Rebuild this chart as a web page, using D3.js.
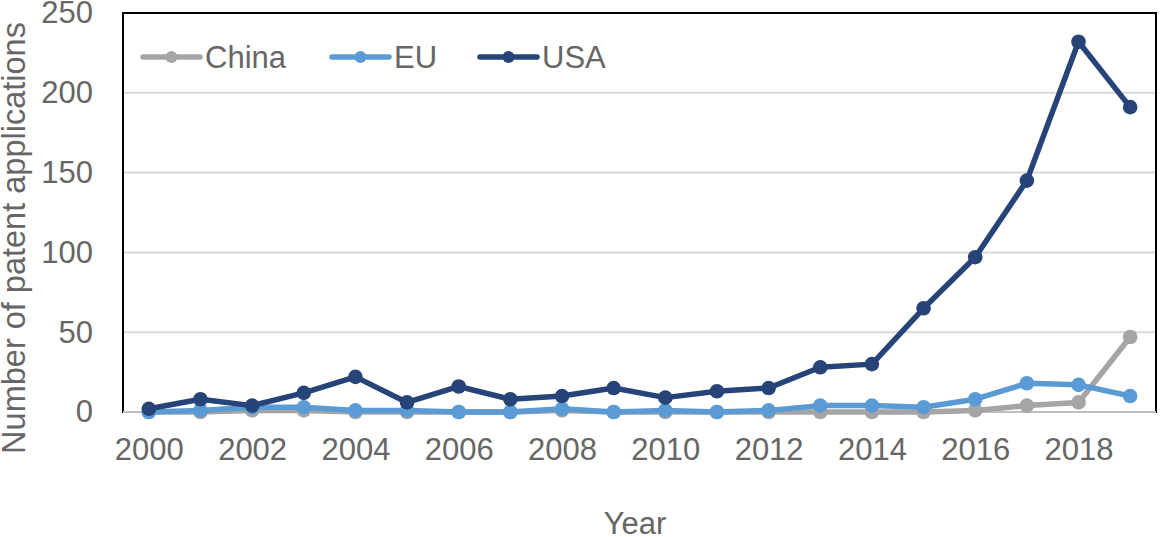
<!DOCTYPE html>
<html>
<head>
<meta charset="utf-8">
<script src="https://cdn.jsdelivr.net/npm/d3@7"></script>
<style>
  body { margin: 0; background: #fff; }
  text { font-family: "Liberation Sans", Arial, sans-serif; fill: #666; }
</style>
</head>
<body>
<svg></svg>
<script>
const years = [2000, 2001, 2002, 2003, 2004, 2005, 2006, 2007, 2008, 2009,
               2010, 2011, 2012, 2013, 2014, 2015, 2016, 2017, 2018, 2019];
const china = [0, 0, 1, 1, 0, 0, 0, 0, 1, 0, 0, 0, 0, 0, 0, 0, 1, 4, 6, 47];
const eu    = [0, 1, 3, 3, 1, 1, 0, 0, 2, 0, 1, 0, 1, 4, 4, 3, 8, 18, 17, 10];
const usa   = [2, 8, 4, 12, 22, 6, 16, 8, 10, 15, 9, 13, 15, 28, 30, 65, 97, 145, 232, 191];
const xTicks = [2000, 2002, 2004, 2006, 2008, 2010, 2012, 2014, 2016, 2018];
const yTicks = [0, 50, 100, 150, 200, 250];
const seriesNames = ['China', 'EU', 'USA'];
const seriesColors = ['#a5a5a5', '#5b9bd5', '#264478'];

const w = 1160;
const h = 537;
const pLeft = 123, pRight = 1156, pTop = 13, pBottom = 412;

let svg = d3.select('svg').attr('width', w).attr('height', h);

let series = [china, eu, usa].map((vals, i) => ({
  name: seriesNames[i],
  color: seriesColors[i],
  values: vals.map((v, j) => ({ year: years[j], value: v }))
}));

let xScale = d3.scalePoint()
  .domain(years)
  .range([pLeft, pRight])
  .padding(0.5);

let yScale = d3.scaleLinear()
  .domain([0, 250])
  .range([pBottom, pTop]);

// gridlines
svg.append('g')
  .selectAll('line')
  .data(yTicks.slice(1))
  .enter()
  .append('line')
  .attr('x1', pLeft).attr('x2', pRight)
  .attr('y1', d => yScale(d)).attr('y2', d => yScale(d))
  .attr('stroke', '#d9d9d9')
  .attr('stroke-width', 2);

// plot frame
svg.append('rect')
  .attr('x', pLeft).attr('y', pTop)
  .attr('width', pRight - pLeft).attr('height', pBottom - pTop)
  .attr('fill', 'none')
  .attr('stroke', '#000')
  .attr('stroke-width', 2);

svg.append('line')
  .attr('x1', pLeft).attr('x2', pRight)
  .attr('y1', pBottom).attr('y2', pBottom)
  .attr('stroke', '#bfbfbf')
  .attr('stroke-width', 2);

// axes
let yAxis = d3.axisLeft(yScale).tickValues(yTicks).tickSize(0).tickPadding(30);
svg.append('g')
  .attr('transform', `translate(${pLeft}, 0)`)
  .call(yAxis)
  .call(g => g.select('.domain').remove())
  .selectAll('text')
  .attr('font-size', 31)
  .attr('fill', '#666');

let xAxis = d3.axisBottom(xScale).tickValues(xTicks).tickSize(0).tickPadding(26);
svg.append('g')
  .attr('transform', `translate(0, ${pBottom})`)
  .call(xAxis)
  .call(g => g.select('.domain').remove())
  .selectAll('text')
  .attr('font-size', 31)
  .attr('fill', '#666');

svg.selectAll('.tick text').style('font-family', '"Liberation Sans", Arial, sans-serif');

// axis titles
svg.append('text')
  .attr('x', 635).attr('y', 534)
  .attr('text-anchor', 'middle')
  .attr('font-size', 31)
  .text('Year');

svg.append('text')
  .attr('transform', 'translate(25, 238) rotate(-90)')
  .attr('text-anchor', 'middle')
  .attr('font-size', 32.5)
  .text('Number of patent applications');

// lines and markers
let line = d3.line()
  .x(d => xScale(d.year))
  .y(d => yScale(d.value));

series.forEach(s => {
  let g = svg.append('g');
  g.append('path')
    .datum(s.values)
    .attr('d', line)
    .attr('fill', 'none')
    .attr('stroke', s.color)
    .attr('stroke-width', 5.5)
    .attr('stroke-linejoin', 'round');
  g.selectAll('circle')
    .data(s.values)
    .enter()
    .append('circle')
    .attr('cx', d => xScale(d.year))
    .attr('cy', d => yScale(d.value))
    .attr('r', 7.3)
    .attr('fill', s.color);
});

// legend
const legendX = [143, 332, 480];
let legend = svg.append('g')
  .selectAll('g')
  .data(series)
  .enter()
  .append('g')
  .attr('transform', (d, i) => `translate(${legendX[i]}, 57)`);

legend.append('line')
  .attr('x1', 0).attr('x2', 57)
  .attr('stroke', d => d.color)
  .attr('stroke-width', 5.5)
  .attr('stroke-linecap', 'round');
legend.append('circle')
  .attr('cx', 28.5)
  .attr('r', 6)
  .attr('fill', d => d.color);
legend.append('text')
  .attr('x', 62)
  .attr('y', 11)
  .attr('font-size', 31)
  .text(d => d.name);
</script>
</body>
</html>
